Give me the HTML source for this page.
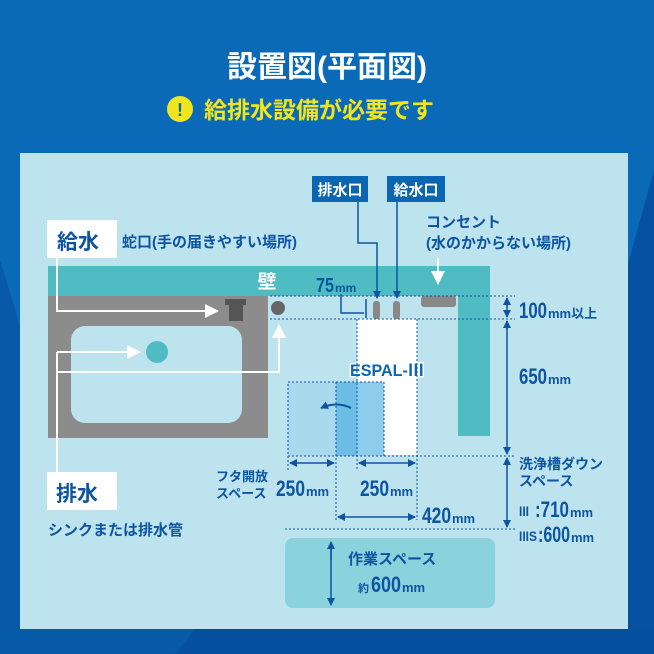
<!DOCTYPE html>
<html><head><meta charset="utf-8"><style>
html,body{margin:0;padding:0;width:654px;height:654px;overflow:hidden;background:#0a6ab8}
svg{display:block}
text{font-family:"Liberation Sans","Noto Sans CJK JP",sans-serif;font-weight:bold}
</style></head><body>
<svg width="654" height="654" viewBox="0 0 654 654" xmlns="http://www.w3.org/2000/svg">
<defs>
<marker id="ab" markerWidth="8" markerHeight="8" refX="7" refY="4" orient="auto" markerUnits="userSpaceOnUse"><path d="M0,0 L8,4 L0,8 z" fill="#0d55a0"/></marker>
<marker id="aw" markerWidth="14" markerHeight="14" refX="13" refY="7" orient="auto" markerUnits="userSpaceOnUse"><path d="M0,0 L14,7 L0,14 z" fill="#fff"/></marker>
</defs>
<rect width="654" height="654" fill="#0a6ab8"/>
<polygon points="0,260 0,654 120,654" fill="#0859a8"/>
<polygon points="654,170 654,654 520,654" fill="#0752a0"/>
<rect x="0" y="629" width="654" height="25" fill="#0650a0"/>
<polygon points="0,629 195,629 175,654 0,654" fill="#075aa8"/>
<text x="327" y="77" font-size="30" fill="#fff" text-anchor="middle">設置図(平面図)</text>
<circle cx="180" cy="109" r="13" fill="#f0e51e"/>
<text x="180" y="116" font-size="18" fill="#0a6ab8" text-anchor="middle">!</text>
<text x="204" y="118" font-size="23" fill="#f0e51e">給排水設備が必要です</text>
<rect x="20" y="153" width="608" height="476" fill="#bde3ee"/>
<rect x="48" y="266" width="442" height="30" fill="#4fbcc4"/>
<rect x="458" y="290" width="32" height="146" fill="#4fbcc4"/>
<text x="267" y="288" font-size="19" fill="#fff" text-anchor="middle">壁</text>
<rect x="48" y="296" width="220" height="142" fill="#8c8c8c"/>
<rect x="71" y="326" width="171" height="97" rx="14" fill="#bde3ee"/>
<circle cx="157" cy="352" r="11" fill="#4fbcc4"/>
<rect x="225" y="299" width="21" height="6" fill="#555"/>
<rect x="229" y="303" width="14" height="18" fill="#555"/>
<circle cx="278" cy="308" r="7" fill="#666"/>
<rect x="47" y="220" width="70" height="38" fill="#fff"/>
<text x="57" y="249" font-size="21" fill="#0d55a0">給水</text>
<text x="122" y="247" font-size="15" fill="#0d55a0">蛇口(手の届きやすい場所)</text>
<polyline points="57,258 57,311 218,311" fill="none" stroke="#fff" stroke-width="2" marker-end="url(#aw)"/>
<rect x="47" y="472" width="70" height="38" fill="#fff"/>
<text x="56" y="501" font-size="21" fill="#0d55a0">排水</text>
<text x="48" y="535" font-size="15" fill="#0d55a0">シンクまたは排水管</text>
<line x1="57" y1="472" x2="57" y2="352" stroke="#fff" stroke-width="2"/>
<line x1="57" y1="352" x2="140" y2="352" stroke="#fff" stroke-width="2" marker-end="url(#aw)"/>
<polyline points="57,372 279,372 279,325" fill="none" stroke="#fff" stroke-width="2" marker-end="url(#aw)"/>
<rect x="312" y="176" width="56" height="26" fill="#0a66b0"/>
<text x="340" y="195" font-size="15" fill="#fff" text-anchor="middle">排水口</text>
<rect x="387" y="176" width="58" height="26" fill="#0a66b0"/>
<text x="416" y="195" font-size="15" fill="#fff" text-anchor="middle">給水口</text>
<polyline points="358,202 358,243 377,243 377,298" fill="none" stroke="#0d55a0" stroke-width="1.5" marker-end="url(#ab)"/>
<line x1="397" y1="202" x2="397" y2="298" stroke="#0d55a0" stroke-width="1.5" marker-end="url(#ab)"/>
<text x="426" y="227" font-size="15" fill="#0d55a0">コンセント</text>
<text x="426" y="248" font-size="15" fill="#0d55a0">(水のかからない場所)</text>
<line x1="438" y1="258" x2="438" y2="284" stroke="#fff" stroke-width="2" marker-end="url(#aw)"/>
<rect x="421" y="296" width="35" height="11" rx="3" fill="#888"/>
<rect x="373" y="301" width="7" height="18" rx="3" fill="#888"/>
<rect x="393" y="301" width="7" height="18" rx="3" fill="#888"/>
<text x="316" y="292" font-size="20" fill="#0d55a0" textLength="18" lengthAdjust="spacingAndGlyphs">75</text>
<text x="335" y="292" font-size="12" fill="#0d55a0">mm</text>
<polyline points="341,294 341,313 364,313" fill="none" stroke="#0d55a0" stroke-width="1.5"/>
<line x1="366" y1="299" x2="366" y2="318" stroke="#0d55a0" stroke-width="1.5"/>
<rect x="357" y="319" width="60" height="136" fill="#fff"/>
<rect x="288" y="382" width="96" height="74" fill="#a9d9ec"/>
<rect x="336" y="382" width="21" height="74" fill="#6bbde6"/>
<path d="M357,382 H379 a5,5 0 0 1 5,5 V456 H357 z" fill="#8dcdeb"/>
<path d="M351,408 Q337,401 321,408" fill="none" stroke="#0d55a0" stroke-width="2" marker-end="url(#ab)"/>
<text x="350" y="376" font-size="17" font-weight="900" fill="#0a66b0" stroke="#fff" stroke-width="3" paint-order="stroke" textLength="74" lengthAdjust="spacingAndGlyphs">ESPAL-Ⅲ</text>
<g stroke="#0d55a0" stroke-width="1" stroke-dasharray="2,2" fill="none">
<line x1="270" y1="296" x2="515" y2="296"/>
<line x1="270" y1="319" x2="515" y2="319"/>
<line x1="357" y1="319" x2="357" y2="470"/>
<line x1="417" y1="319" x2="417" y2="520"/>
<line x1="336" y1="382" x2="336" y2="520"/>
<rect x="288" y="382" width="96" height="74"/>
<line x1="288" y1="456" x2="515" y2="456"/>
<line x1="288" y1="456" x2="288" y2="470"/>
<line x1="285" y1="529" x2="515" y2="529"/>
</g>
<g stroke="#0d55a0" stroke-width="1.5" fill="none">
<line x1="296" y1="463" x2="290" y2="463" marker-end="url(#ab)"/><line x1="290" y1="463" x2="334" y2="463" marker-end="url(#ab)"/>
<line x1="365" y1="463" x2="359" y2="463" marker-end="url(#ab)"/><line x1="359" y1="463" x2="415" y2="463" marker-end="url(#ab)"/>
<line x1="345" y1="517" x2="338" y2="517" marker-end="url(#ab)"/><line x1="338" y1="517" x2="415" y2="517" marker-end="url(#ab)"/>
<line x1="507" y1="306" x2="507" y2="298" marker-end="url(#ab)"/><line x1="507" y1="298" x2="507" y2="317" marker-end="url(#ab)"/>
<line x1="507" y1="330" x2="507" y2="321" marker-end="url(#ab)"/><line x1="507" y1="321" x2="507" y2="454" marker-end="url(#ab)"/>
<line x1="507" y1="466" x2="507" y2="458" marker-end="url(#ab)"/><line x1="507" y1="458" x2="507" y2="527" marker-end="url(#ab)"/>
</g>
<text x="216" y="481" font-size="13" fill="#0d55a0">フタ開放</text>
<text x="216" y="498" font-size="13" fill="#0d55a0">スペース</text>
<text x="276" y="496" font-size="22" fill="#0d55a0" textLength="29" lengthAdjust="spacingAndGlyphs">250</text><text x="306" y="496" font-size="13" fill="#0d55a0">mm</text>
<text x="360" y="496" font-size="22" fill="#0d55a0" textLength="29" lengthAdjust="spacingAndGlyphs">250</text><text x="390" y="496" font-size="13" fill="#0d55a0">mm</text>
<text x="422" y="523" font-size="22" fill="#0d55a0" textLength="29" lengthAdjust="spacingAndGlyphs">420</text><text x="452" y="523" font-size="13" fill="#0d55a0">mm</text>
<text x="519" y="318" font-size="22" fill="#0d55a0" textLength="28" lengthAdjust="spacingAndGlyphs">100</text><text x="548" y="318" font-size="13" fill="#0d55a0">mm以上</text>
<text x="519" y="384" font-size="22" fill="#0d55a0" textLength="28" lengthAdjust="spacingAndGlyphs">650</text><text x="548" y="384" font-size="13" fill="#0d55a0">mm</text>
<text x="519" y="469" font-size="14" fill="#0d55a0">洗浄槽ダウン</text>
<text x="519" y="486" font-size="14" fill="#0d55a0">スペース</text>
<text x="519" y="516" font-size="14" fill="#0d55a0" textLength="10" lengthAdjust="spacingAndGlyphs">III</text>
<text x="535" y="517" font-size="22" fill="#0d55a0" textLength="34" lengthAdjust="spacingAndGlyphs">:710</text><text x="570" y="517" font-size="13" fill="#0d55a0">mm</text>
<text x="519" y="541" font-size="14" fill="#0d55a0" textLength="18" lengthAdjust="spacingAndGlyphs">IIIS</text>
<text x="538" y="542" font-size="22" fill="#0d55a0" textLength="32" lengthAdjust="spacingAndGlyphs">:600</text><text x="571" y="542" font-size="13" fill="#0d55a0">mm</text>
<rect x="285" y="538" width="210" height="70" rx="8" fill="#8ad3dc"/>
<g stroke="#0d55a0" stroke-width="1.5" fill="none">
<line x1="331" y1="560" x2="331" y2="542" marker-end="url(#ab)"/><line x1="331" y1="542" x2="331" y2="605" marker-end="url(#ab)"/>
</g>
<text x="348" y="564" font-size="15" fill="#0d55a0">作業スペース</text>
<text x="358" y="592" font-size="11" fill="#0d55a0">約</text>
<text x="371" y="592" font-size="22" fill="#0d55a0" textLength="30" lengthAdjust="spacingAndGlyphs">600</text><text x="402" y="592" font-size="13" fill="#0d55a0">mm</text>
</svg>
</body></html>
